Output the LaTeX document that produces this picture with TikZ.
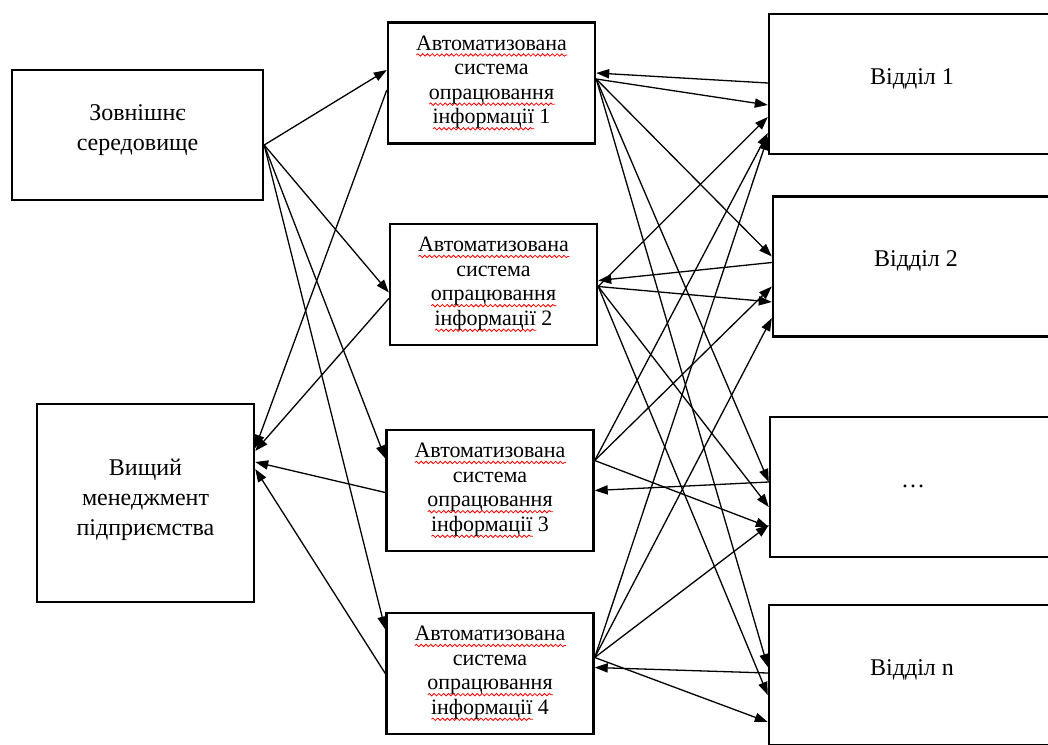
\documentclass[tikz,border=0pt]{standalone}
\usepackage{fontspec}
\setmainfont{Liberation Serif}
\usetikzlibrary{arrows.meta, decorations.pathmorphing}
\newlength{\wavelen}
\NewDocumentCommand{\redwave}{m}{\settowidth{\wavelen}{#1}\rlap{\tikz[baseline=0pt]\draw[red, line width=0.4pt, decorate, decoration={snake, amplitude=0.6pt, segment length=2.4pt}] (0pt,-2.4pt) -- (\wavelen,-2.4pt);}#1}
\NewDocumentCommand{\asoitext}{m}{\redwave{Автоматизована}\\система\\\redwave{опрацювання}\\\redwave{інформації} #1}

\begin{document}
\begin{tikzpicture}[x=0.5pt, y=-0.5pt,
    box/.style={draw, line width=1.2pt, rectangle, inner sep=0pt, align=center},
    conn/.style={line width=0.65pt, -{Triangle[length=6.5pt, width=4.6pt]}}]
    \useasboundingbox (0,0) rectangle (1048,744);
    \clip (0,0) rectangle (1048,744);

    \node[box, minimum width=125.5pt, minimum height=65pt, text depth=7pt, font=\fontsize{12}{15}\selectfont] (env) at (137.5,135) {Зовнішнє\\середовище};
    \node[box, minimum width=108.5pt, minimum height=99pt, text depth=6pt, font=\fontsize{12}{15}\selectfont] (mgmt) at (145.5,503) {Вищий\\менеджмент\\підприємства};

    \node[box, minimum width=103.5pt, minimum height=60.5pt, font=\fontsize{11}{12.3}\selectfont] (a1) at (491.5,83) {\asoitext{1}};
    \node[box, minimum width=103.5pt, minimum height=60.5pt, font=\fontsize{11}{12.3}\selectfont] (a2) at (493.5,284.5) {\asoitext{2}};
    \node[box, minimum width=103.5pt, minimum height=60.5pt, font=\fontsize{11}{12.3}\selectfont] (a3) at (490,490.5) {\asoitext{3}};
    \node[box, minimum width=103.5pt, minimum height=60.5pt, font=\fontsize{11}{12.3}\selectfont] (a4) at (490,673.5) {\asoitext{4}};

    \node[box, minimum width=143pt, minimum height=70pt, text height=5pt, text depth=5pt, font=\fontsize{12}{14}\selectfont] (d1) at (912,84) {Відділ 1};
    \node[box, minimum width=143pt, minimum height=70pt, text height=5pt, text depth=5pt, font=\fontsize{12}{14}\selectfont] (d2) at (916,266.5) {Відділ 2};
    \node[box, minimum width=143pt, minimum height=70pt, text height=5pt, text depth=5pt, font=\fontsize{12}{14}\selectfont] (d3) at (913,487) {…};
    \node[box, minimum width=143pt, minimum height=70pt, text height=5pt, text depth=5pt, font=\fontsize{12}{14}\selectfont] (d4) at (912,675) {Відділ n};

    \draw[conn] ([yshift=-5pt]env.east) -- ([yshift=6.5pt]a1.west);
    \draw[conn] ([yshift=-5pt]env.east) -- ([yshift=-4pt]a2.west);
    \draw[conn] ([yshift=-5pt]env.east) -- ([yshift=16pt]a3.west);
    \draw[conn] ([yshift=-5pt]env.east) -- ([yshift=22pt]a4.west);

    \draw[conn] ([yshift=-3.5pt]a1.west) -- ([yshift=27.5pt]mgmt.east);
    \draw[conn] ([yshift=-7pt]a2.west) -- ([yshift=26pt]mgmt.east);
    \draw[conn] ([yshift=-1pt]a3.west) -- ([yshift=20.5pt]mgmt.east);
    \draw[conn] ([yshift=0pt]a4.west) -- ([yshift=17pt]mgmt.east);

    \draw[conn] ([yshift=0.5pt]d1.west) -- ([yshift=5pt]a1.east);
    \draw[conn] ([yshift=2pt]a1.east) -- ([yshift=-10.5pt]d1.west);
    \draw[conn] ([yshift=2pt]a1.east) -- ([yshift=5pt]d2.west);
    \draw[conn] ([yshift=2pt]a1.east) -- ([yshift=2.5pt]d3.west);
    \draw[conn] ([yshift=2pt]a1.east) -- ([yshift=4pt]d4.west);

    \draw[conn] ([yshift=2pt]d2.west) -- ([yshift=2pt]a2.east);
    \draw[conn] ([yshift=-1pt]a2.east) -- ([yshift=-17.75pt]d2.west);
    \draw[conn] ([yshift=-1pt]a2.east) -- ([yshift=-16.5pt]d1.west);
    \draw[conn] ([yshift=-1pt]a2.east) -- ([yshift=-10pt]d3.west);
    \draw[conn] ([yshift=-1pt]a2.east) -- ([yshift=-10pt]d4.west);

    \draw[conn] ([yshift=2.5pt]d3.west) -- ([yshift=0pt]a3.east);
    \draw[conn] ([yshift=15pt]a3.east) -- ([yshift=-20pt]d3.west);
    \draw[conn] ([yshift=15pt]a3.east) -- ([yshift=-24.5pt]d1.west);
    \draw[conn] ([yshift=15pt]a3.east) -- ([yshift=-10pt]d2.west);

    \draw[conn] ([yshift=1pt]d4.west) -- ([yshift=3pt]a4.east);
    \draw[conn] ([yshift=8pt]a4.east) -- ([yshift=-23.5pt]d4.west);
    \draw[conn] ([yshift=8pt]a4.east) -- ([yshift=-26.5pt]d1.west);
    \draw[conn] ([yshift=8pt]a4.east) -- ([yshift=-25.75pt]d2.west);
    \draw[conn] ([yshift=8pt]a4.east) -- ([yshift=-19pt]d3.west);
\end{tikzpicture}
\end{document}
